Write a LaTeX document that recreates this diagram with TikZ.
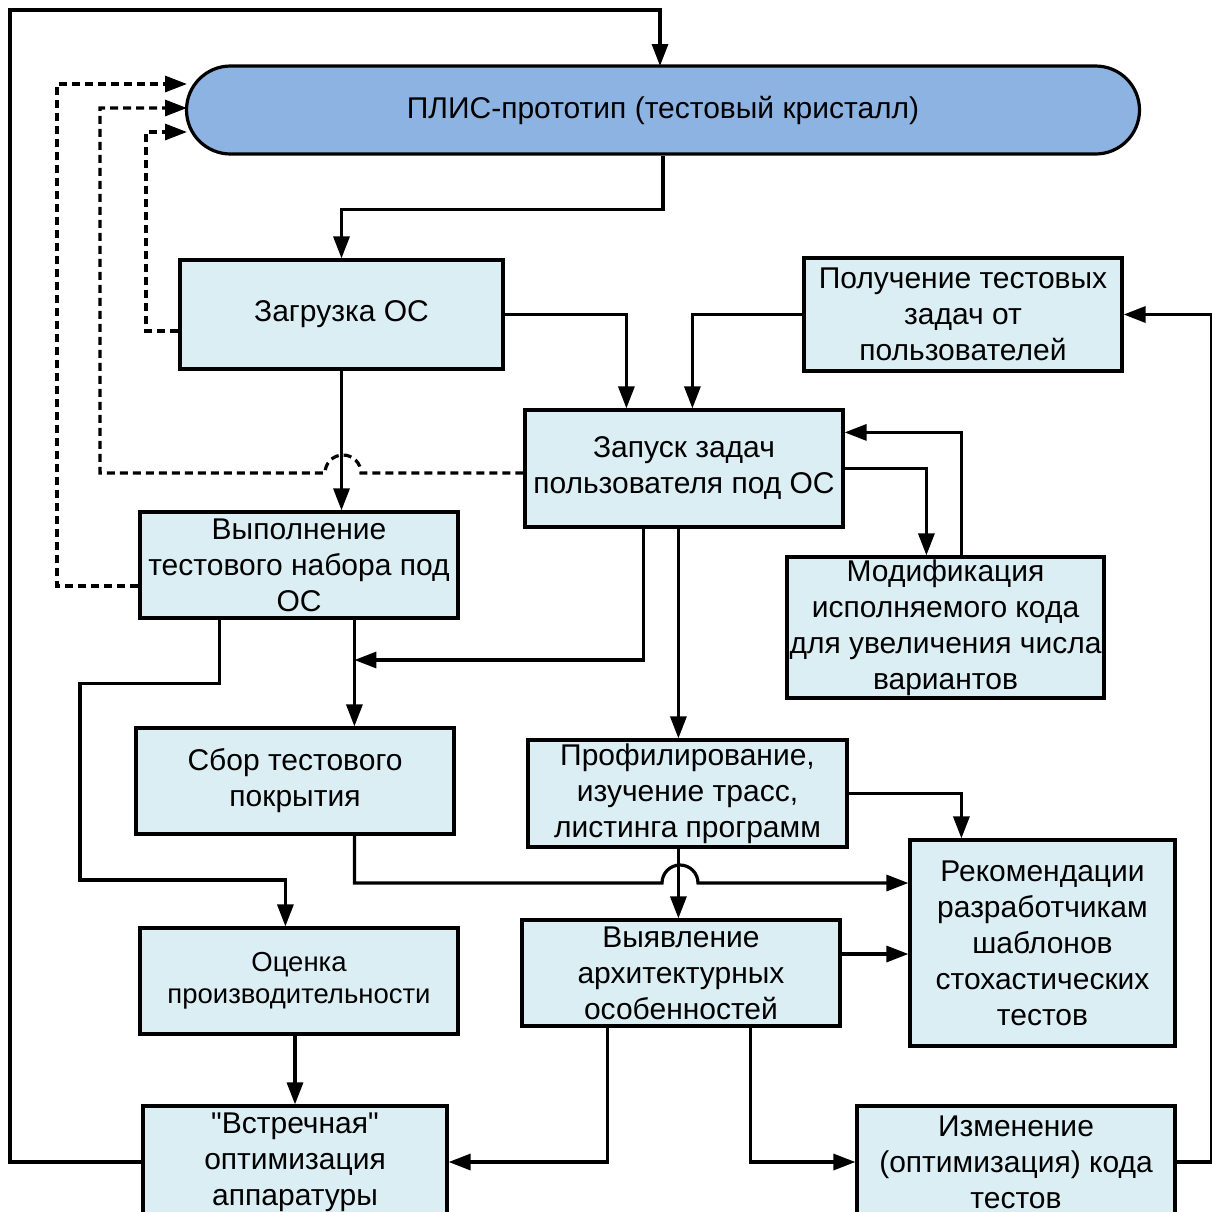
\documentclass[tikz,border=0pt]{standalone}
\usepackage{fontspec}
\setmainfont{Liberation Sans}[Ligatures=TeXOff]
\usetikzlibrary{arrows.meta,calc}
\definecolor{boxfill}{RGB}{219,238,244}
\definecolor{pillfill}{RGB}{141,179,226}
\tikzset{
  box/.style={draw,line width=3.2pt,fill=boxfill,inner sep=0pt,align=center,
    font=\fontsize{30pt}{36pt}\selectfont},
  arr/.style={line width=3.2pt,-{Triangle[length=22pt,width=16pt]}},
  dotarr/.style={arr,dash pattern=on 8pt off 5pt},
  ln/.style={line width=3.2pt}
}
\begin{document}
\begin{tikzpicture}[x=1pt,y=-1pt]
  \useasboundingbox (0,0) rectangle (1212,1211);
  % blocks
  \node[box,fill=pillfill,rounded corners=44pt,minimum width=953pt,minimum height=88pt] (pill) at (663,110) {ПЛИС-прототип (тестовый кристалл)};
  \node[box,minimum width=323pt,minimum height=109pt] (load) at (341.5,314.5) {Загрузка ОС};
  \node[box,minimum width=318pt,minimum height=113pt] (get) at (963,314.5) {Получение тестовых\\задач от\\пользователей};
  \node[box,minimum width=318pt,minimum height=117pt] (launch) at (684,468.5) {Запуск задач\\пользователя под ОС};
  \node[box,minimum width=317pt,minimum height=141pt] (modif) at (945.5,627.5) {Модификация\\исполняемого кода\\для увеличения числа\\вариантов};
  \node[box,minimum width=318pt,minimum height=106pt] (run) at (299,565) {Выполнение\\тестового набора под\\ОС};
  \node[box,minimum width=318pt,minimum height=106pt] (coll) at (295,781) {Сбор тестового\\покрытия};
  \node[box,minimum width=319pt,minimum height=107pt] (prof) at (687.5,793.5) {Профилирование,\\изучение трасс,\\листинга программ};
  \node[box,minimum width=265pt,minimum height=206pt] (rec) at (1042.5,943) {Рекомендации\\разработчикам\\шаблонов\\стохастических\\тестов};
  \node[box,minimum width=318pt,minimum height=106pt] (find) at (681,973) {Выявление\\архитектурных\\особенностей};
  \node[box,minimum width=318pt,minimum height=106pt,font=\fontsize{27.5pt}{32pt}\selectfont] (perf) at (299,981) {Оценка\\производительности};
  \node[box,minimum width=304pt,minimum height=112pt] (hw) at (295,1162) {"Встречная"\\оптимизация\\аппаратуры};
  \node[box,minimum width=318pt,minimum height=112pt] (chg) at (1016,1162) {Изменение\\(оптимизация) кода\\тестов};
  % free ends
  \coordinate (ptop) at (660,66);
  \coordinate (pin1) at (187,84);
  \coordinate (pin2) at (187,108);
  \coordinate (pin3) at (187,132);
  \coordinate (runout) at ($(run.south west)+(216,0)$);
  \coordinate (joint) at (runout |- 0,660);
  \coordinate (findout) at ($(find.east)+(0,-19)$);
  % dotted returns
  \draw[dotarr] ($(run.west)+(0,21)$) -| (57,84) -- (pin1);
  \draw[dotarr] ($(launch.west)+(0,4.5)$) -- (361,473) arc (0:-180:18) -- (100,473) |- (pin2);
  \draw[dotarr] ($(load.west)+(0,16.5)$) -| (146,132) -- (pin3);
  % solid connectors
  \draw[arr] (hw.west) -| (10,10) -| (ptop);
  \draw[arr] (pill.south) -- ++(0,54) -| (load.north);
  \draw[arr] (load.east) -| ($(launch.north west)+(103,0)$);
  \draw[arr] (get.west) -| ($(launch.north west)+(169,0)$);
  \draw[arr] (launch.east) -| ($(modif.north west)+(141,0)$);
  \draw[arr] ($(modif.north west)+(176,0)$) |- ($(launch.north east)+(0,24)$);
  \draw[arr] (load.south) -- (load.south |- run.north);
  \draw[arr] (runout) -- (runout |- coll.north);
  \draw[arr] ($(launch.south west)+(120,0)$) |- (joint);
  \draw[arr] ($(run.south west)+(81,0)$) -- ++(0,64) -| (80,880) -| ($(perf.north west)+(147,0)$);
  \draw[arr] ($(launch.south west)+(155,0)$) -- ($(prof.north west)+(152,0)$);
  \draw[arr] (prof.east) -| ($(rec.north west)+(53,0)$);
  \draw[arr] ($(coll.south west)+(220,0)$) |- (662,883) arc (180:360:18) -- ($(rec.west)+(0,-60)$);
  \draw[arr] ($(prof.south west)+(152,0)$) -- ($(find.north west)+(158,0)$);
  \draw[arr] (findout) -- (findout -| rec.west);
  \draw[arr] (perf.south -| hw.north) -- (hw.north);
  \draw[arr] ($(find.south west)+(87,0)$) |- (hw.east);
  \draw[arr] ($(find.south west)+(230,0)$) |- (chg.west);
  \draw[arr] (chg.east) -- ++(35,0) |- (get.east);
\end{tikzpicture}
\end{document}
